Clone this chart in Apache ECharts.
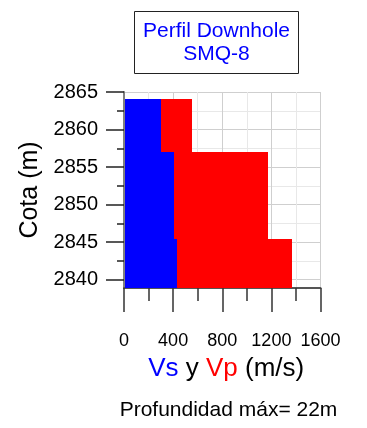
<!DOCTYPE html>
<html>
<head>
<meta charset="utf-8">
<title>Perfil Downhole SMQ-8</title>
<script src="https://cdn.jsdelivr.net/npm/echarts@6/dist/echarts.min.js"></script>
<style>
  html, body { margin: 0; padding: 0; background: #fff; }
  #main { width: 367px; height: 428px; }
</style>
</head>
<body>
<div id="main"></div>
<script>
// capas del perfil (cota en m)
var capaTop = [2864.1, 2857.05, 2845.4];
var capaBase = [2857.05, 2845.4, 2838.9];
// velocidades (m/s)
var vs = [300, 405, 432];
var vp = [554, 1173, 1369];
// marcas del eje de cota
var cotaTicks = [2840, 2845, 2850, 2855, 2860, 2865];
var cotaMinor = [2842.5, 2847.5, 2852.5, 2857.5, 2862.5];

var FONT = 'Liberation Sans, Arial, sans-serif';

function serieCapas(vals) {
  var data = [];
  for (var i = 0; i < vals.length; i++) {
    data.push([capaBase[i], capaTop[i], vals[i]]);
  }
  return data;
}

// rectangulo de cada capa, redondeado para que no queden rendijas entre capas
function dibujarCapa(color) {
  return function (params, api) {
    var p1 = api.coord([0, api.value(1)]);
    var p2 = api.coord([api.value(2), api.value(0)]);
    var x1 = Math.round(p1[0]) + 1, y1 = Math.round(p1[1]);
    var x2 = Math.round(p2[0]), y2 = Math.round(p2[1]);
    return {
      type: 'rect',
      shape: { x: x1, y: y1, width: x2 - x1, height: y2 - y1 },
      style: { fill: color }
    };
  };
}

function sinSeparador(v) {
  return String(v);
}

var chart = echarts.init(document.getElementById('main'), null, { renderer: 'canvas' });

var option = {
  animation: false,
  backgroundColor: '#fff',
  textStyle: { fontFamily: FONT },
  grid: {
    left: 124,
    right: 46.5,
    top: 92,
    bottom: 140
  },
  xAxis: {
    type: 'value',
    min: 0,
    max: 1600,
    interval: 400,
    name: '{b|Vs} y {r|Vp} (m/s)',
    nameLocation: 'middle',
    nameGap: 68,
    nameTextStyle: {
      fontSize: 26,
      color: '#000',
      fontFamily: FONT,
      padding: [0, 0, 0, 8],
      rich: {
        b: { color: '#0000ff', fontSize: 26, fontFamily: FONT },
        r: { color: '#ff0000', fontSize: 26, fontFamily: FONT }
      }
    },
    axisLine: { lineStyle: { color: '#555', width: 2 } },
    axisTick: { length: 24, lineStyle: { color: '#333', width: 1.5 } },
    minorTick: { show: true, splitNumber: 2, length: 13, lineStyle: { color: '#333', width: 1.5 } },
    axisLabel: { fontSize: 18, margin: 44, color: '#000', fontFamily: FONT, formatter: sinSeparador },
    splitLine: { show: true, lineStyle: { color: '#cfcfcf', width: 1 } },
    minorSplitLine: { show: true, lineStyle: { color: '#e8e8e8', width: 1 } }
  },
  yAxis: [{
    type: 'value',
    min: 2838.9,
    max: 2865,
    name: 'Cota (m)',
    nameLocation: 'middle',
    nameGap: 72,
    nameTextStyle: { fontSize: 25, color: '#000', fontFamily: FONT },
    axisLine: { show: true, lineStyle: { color: '#808080', width: 2 } },
    axisTick: { customValues: cotaTicks, length: 18, lineStyle: { color: '#222', width: 1.5 } },
    axisLabel: { customValues: cotaTicks, fontSize: 20, margin: 26, color: '#000', fontFamily: FONT, formatter: sinSeparador },
    splitLine: { show: true, lineStyle: { color: '#cfcfcf', width: 1 } }
  }, {
    // marcas menores
    type: 'value',
    position: 'left',
    min: 2838.9,
    max: 2865,
    axisLine: { show: false },
    axisTick: { customValues: cotaMinor, length: 7, lineStyle: { color: '#222', width: 1.5 } },
    axisLabel: { show: false },
    splitLine: { show: true, lineStyle: { color: '#e8e8e8', width: 1 } }
  }],
  graphic: [{
    type: 'rect',
    shape: { x: 134.5, y: 11.5, width: 164, height: 62 },
    style: { fill: '#fff', stroke: '#222', lineWidth: 1 }
  }, {
    type: 'text',
    x: 216.5,
    y: 43,
    style: {
      text: 'Perfil Downhole\nSMQ-8',
      fill: '#0000ff',
      font: '21px ' + FONT,
      lineHeight: 23,
      align: 'center',
      verticalAlign: 'middle'
    }
  }, {
    type: 'text',
    x: 228.5,
    y: 410,
    style: {
      text: 'Profundidad máx= 22m',
      fill: '#000',
      font: '21px ' + FONT,
      align: 'center',
      verticalAlign: 'middle'
    }
  }],
  series: [{
    name: 'Vp',
    type: 'custom',
    yAxisIndex: 0,
    renderItem: dibujarCapa('#ff0000'),
    encode: { x: 2, y: [0, 1] },
    data: serieCapas(vp)
  }, {
    name: 'Vs',
    type: 'custom',
    yAxisIndex: 0,
    renderItem: dibujarCapa('#0000ff'),
    encode: { x: 2, y: [0, 1] },
    data: serieCapas(vs)
  }]
};

chart.setOption(option);
</script>
</body>
</html>
